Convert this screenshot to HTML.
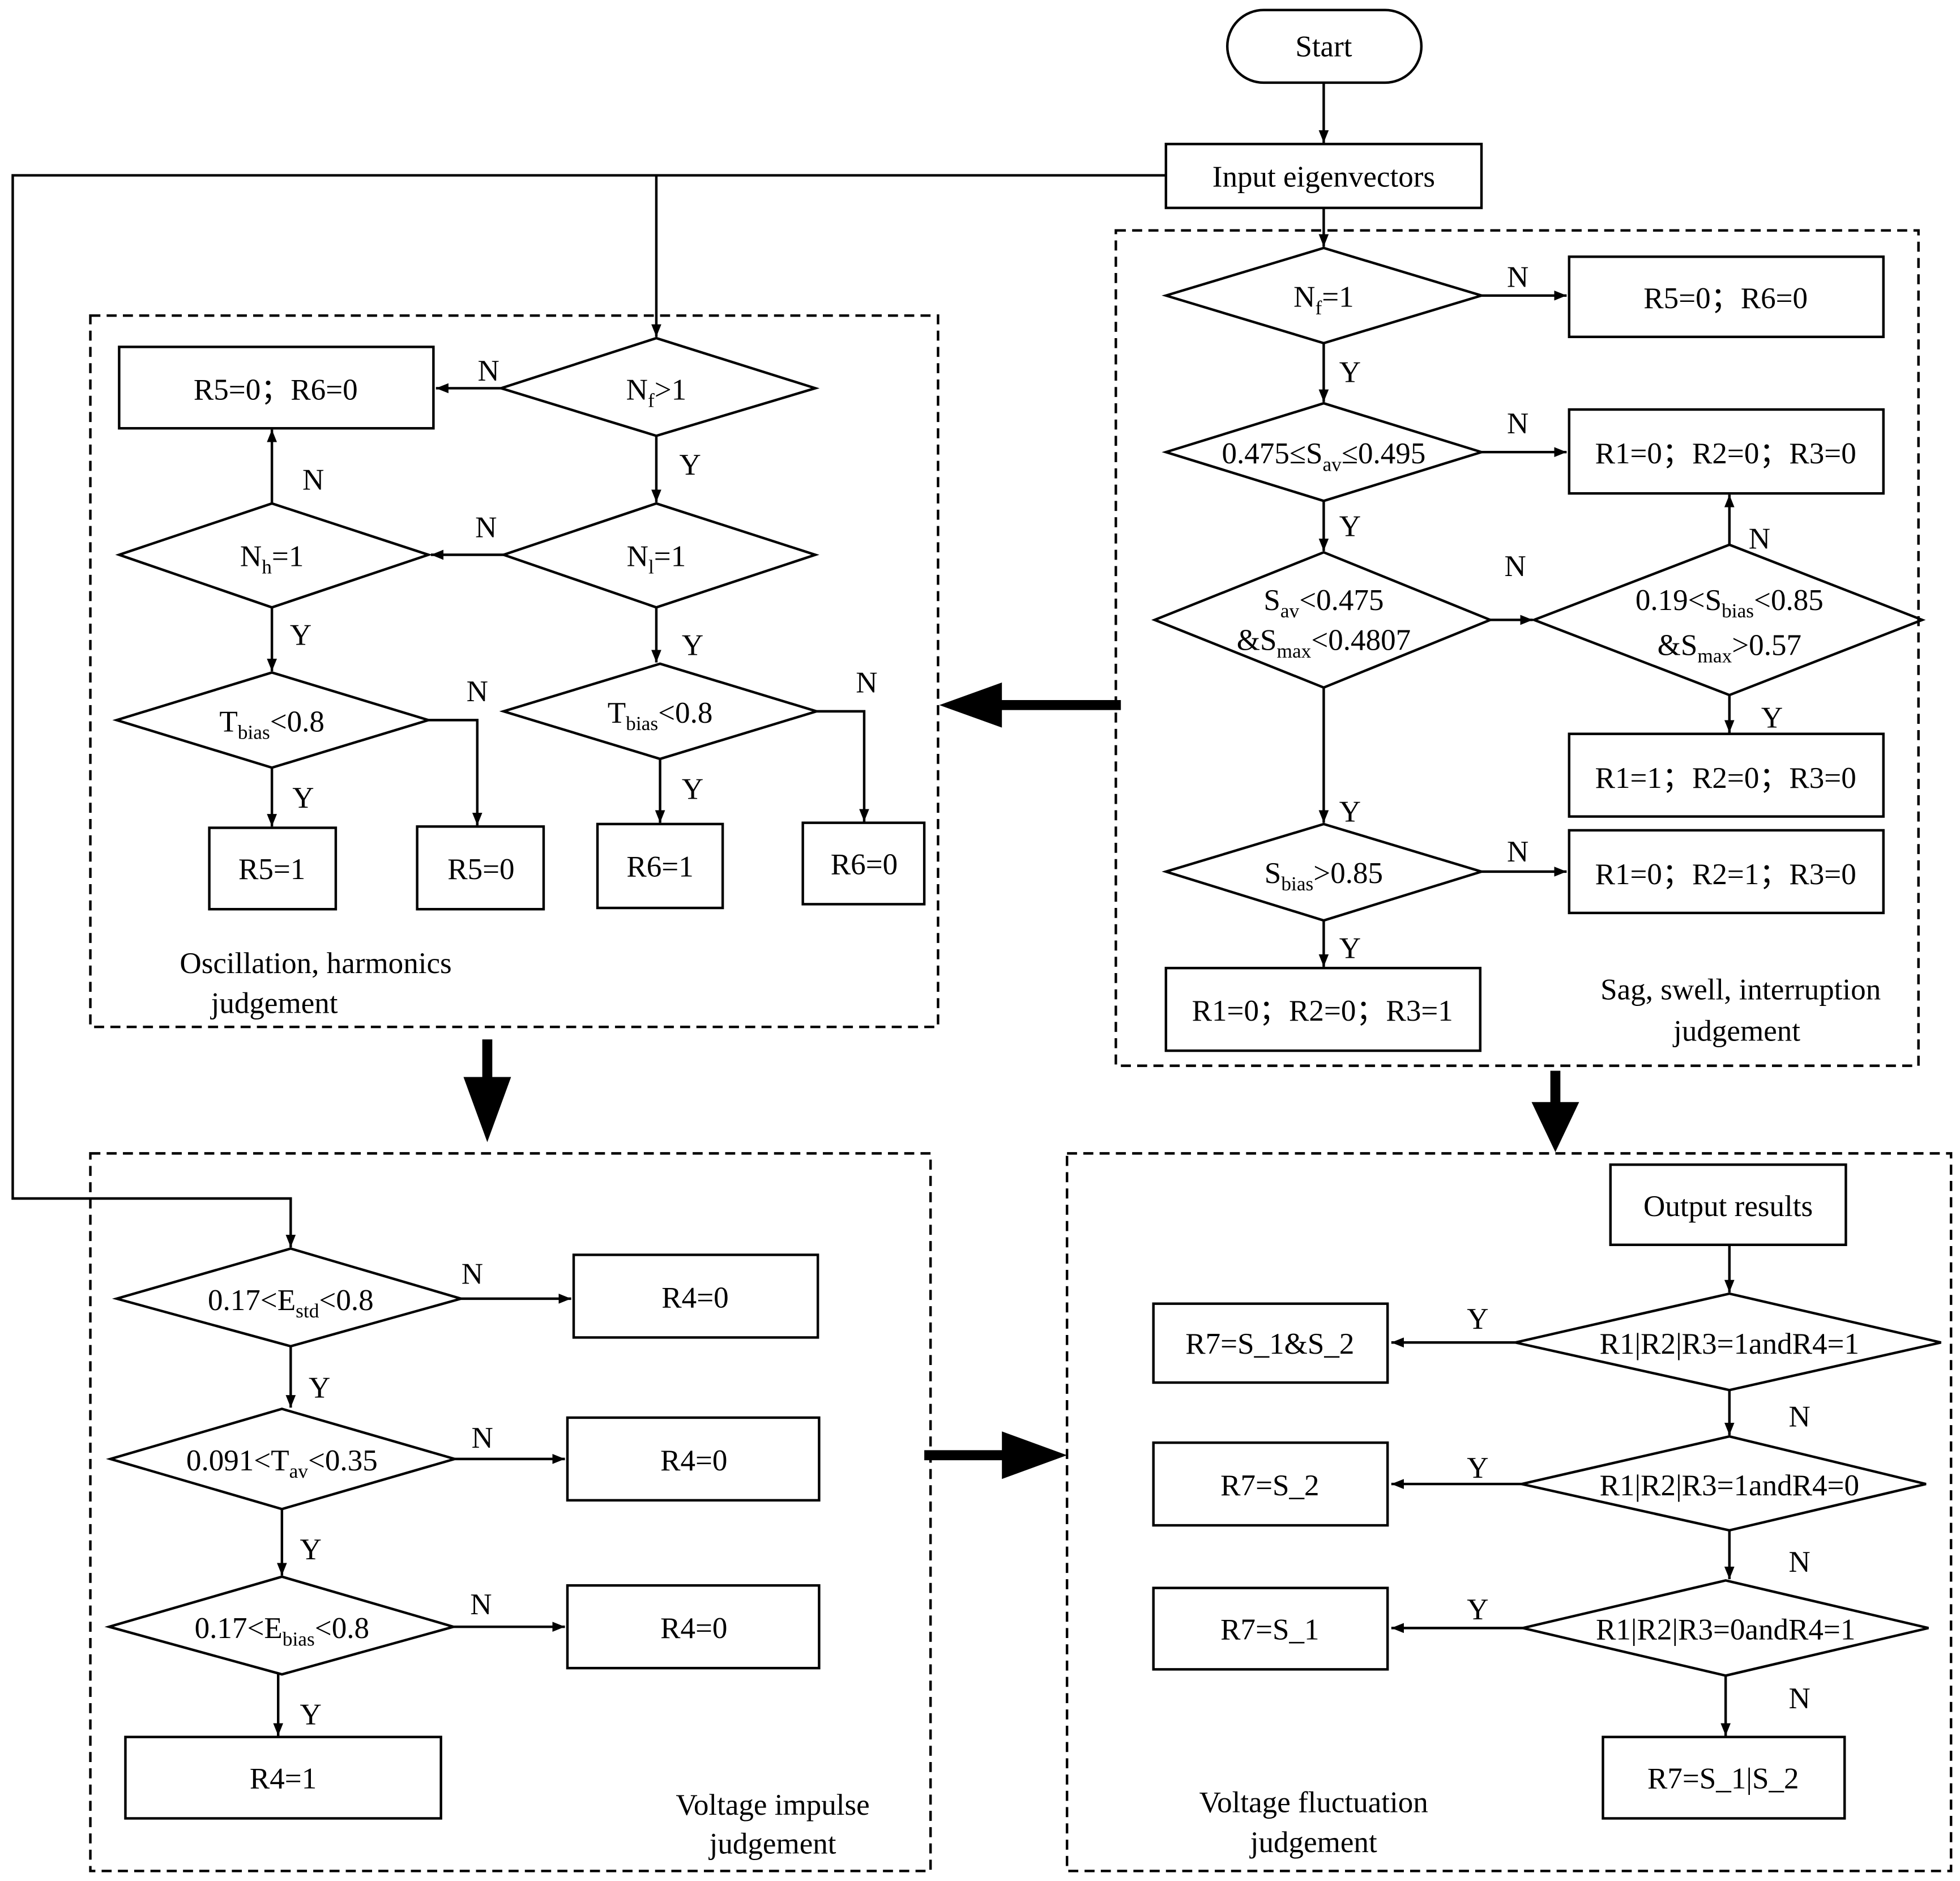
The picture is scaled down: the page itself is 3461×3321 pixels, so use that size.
<!DOCTYPE html>
<html><head><meta charset="utf-8"><style>
html,body{margin:0;padding:0;background:#fff;}
svg{display:block;}
text{font-family:"Liberation Serif",serif;font-size:24px;fill:#000;}
</style></head><body>
<svg width="3461" height="3321" viewBox="0 0 1565 1502" xmlns="http://www.w3.org/2000/svg">
<defs>
<marker id="a" markerWidth="10" markerHeight="8" refX="10" refY="4" orient="auto" markerUnits="userSpaceOnUse">
<path d="M0,0 L10,4 L0,8 z" fill="#000"/>
</marker>
</defs>
<g fill="none" stroke="#000" stroke-width="2">
<rect x="891" y="184" width="641" height="667" stroke-dasharray="8,5"/>
<rect x="72" y="252" width="677" height="568" stroke-dasharray="8,5"/>
<rect x="72" y="921" width="671" height="573" stroke-dasharray="8,5"/>
<rect x="852" y="921" width="706" height="573" stroke-dasharray="8,5"/>
<rect x="980" y="8" width="155" height="58" rx="29"/>
<line x1="1057" y1="66" x2="1057" y2="114" marker-end="url(#a)"/>
<rect x="931" y="115" width="252" height="51"/>
<polyline points="931,140 10,140 10,957 232,957 232,996" marker-end="url(#a)"/>
<line x1="524" y1="140" x2="524" y2="269" marker-end="url(#a)"/>
<line x1="1057" y1="166" x2="1057" y2="197" marker-end="url(#a)"/>
<polygon points="931,236 1057,198 1183,236 1057,274"/>
<line x1="1183" y1="236" x2="1251" y2="236" marker-end="url(#a)"/>
<rect x="1253" y="205" width="251" height="64"/>
<line x1="1057" y1="274" x2="1057" y2="321" marker-end="url(#a)"/>
<polygon points="931,361 1057,322 1183,361 1057,400"/>
<line x1="1183" y1="361" x2="1251" y2="361" marker-end="url(#a)"/>
<rect x="1253" y="327" width="251" height="67"/>
<line x1="1057" y1="400" x2="1057" y2="440" marker-end="url(#a)"/>
<polygon points="922,495 1057,441 1190,495 1057,549"/>
<line x1="1190" y1="495" x2="1224" y2="495" marker-end="url(#a)"/>
<polygon points="1225,495 1381,435 1535,495 1381,555"/>
<line x1="1381" y1="435" x2="1381" y2="395" marker-end="url(#a)"/>
<line x1="1381" y1="555" x2="1381" y2="585" marker-end="url(#a)"/>
<rect x="1253" y="586" width="251" height="66"/>
<line x1="1057" y1="549" x2="1057" y2="657" marker-end="url(#a)"/>
<polygon points="931,696 1057,658 1183,696 1057,735"/>
<line x1="1183" y1="696" x2="1251" y2="696" marker-end="url(#a)"/>
<rect x="1253" y="663" width="251" height="66"/>
<line x1="1057" y1="735" x2="1057" y2="772" marker-end="url(#a)"/>
<rect x="931" y="773" width="251" height="66"/>
<polygon points="400,310 524,270 651,310 524,348"/>
<line x1="400" y1="310" x2="348" y2="310" marker-end="url(#a)"/>
<rect x="95" y="277" width="251" height="65"/>
<line x1="524" y1="348" x2="524" y2="401" marker-end="url(#a)"/>
<polygon points="402,443 524,402 651,443 524,485"/>
<line x1="402" y1="443" x2="344" y2="443" marker-end="url(#a)"/>
<polygon points="95,443 217,402 342,443 217,485"/>
<line x1="217" y1="402" x2="217" y2="343" marker-end="url(#a)"/>
<line x1="217" y1="485" x2="217" y2="536" marker-end="url(#a)"/>
<polygon points="93,575 217,537 342,575 217,613"/>
<polyline points="342,575 381,575 381,659" marker-end="url(#a)"/>
<line x1="217" y1="613" x2="217" y2="660" marker-end="url(#a)"/>
<rect x="167" y="661" width="101" height="65"/>
<rect x="333" y="660" width="101" height="66"/>
<line x1="524" y1="485" x2="524" y2="529" marker-end="url(#a)"/>
<polygon points="402,568 527,530 652,568 527,606"/>
<polyline points="652,568 690,568 690,656" marker-end="url(#a)"/>
<line x1="527" y1="606" x2="527" y2="657" marker-end="url(#a)"/>
<rect x="477" y="658" width="100" height="67"/>
<rect x="641" y="657" width="97" height="65"/>
<polygon points="93,1037 232,997 368,1037 232,1075"/>
<line x1="368" y1="1037" x2="456" y2="1037" marker-end="url(#a)"/>
<rect x="458" y="1002" width="195" height="66"/>
<line x1="232" y1="1075" x2="232" y2="1124" marker-end="url(#a)"/>
<polygon points="88,1165 225,1125 363,1165 225,1205"/>
<line x1="363" y1="1165" x2="451" y2="1165" marker-end="url(#a)"/>
<rect x="453" y="1132" width="201" height="66"/>
<line x1="225" y1="1205" x2="225" y2="1258" marker-end="url(#a)"/>
<polygon points="87,1299 225,1259 362,1299 225,1337"/>
<line x1="362" y1="1299" x2="451" y2="1299" marker-end="url(#a)"/>
<rect x="453" y="1266" width="201" height="66"/>
<line x1="222" y1="1337" x2="222" y2="1386" marker-end="url(#a)"/>
<rect x="100" y="1387" width="252" height="65"/>
<rect x="1286" y="930" width="188" height="64"/>
<line x1="1381" y1="994" x2="1381" y2="1032" marker-end="url(#a)"/>
<polygon points="1210,1072 1381,1033 1550,1072 1381,1110"/>
<line x1="1210" y1="1072" x2="1111" y2="1072" marker-end="url(#a)"/>
<rect x="921" y="1041" width="187" height="63"/>
<line x1="1381" y1="1110" x2="1381" y2="1146" marker-end="url(#a)"/>
<polygon points="1215,1185 1381,1147 1538,1185 1381,1222"/>
<line x1="1215" y1="1185" x2="1111" y2="1185" marker-end="url(#a)"/>
<rect x="921" y="1152" width="187" height="66"/>
<line x1="1381" y1="1222" x2="1381" y2="1261" marker-end="url(#a)"/>
<polygon points="1216,1300 1378,1262 1540,1300 1378,1338"/>
<line x1="1216" y1="1300" x2="1111" y2="1300" marker-end="url(#a)"/>
<rect x="921" y="1268" width="187" height="65"/>
<line x1="1378" y1="1338" x2="1378" y2="1386" marker-end="url(#a)"/>
<rect x="1280" y="1387" width="193" height="65"/>
</g>
<g fill="#000" stroke="#000">
<line x1="895" y1="563" x2="798" y2="563" stroke-width="8"/>
<polygon points="750,563 800,545 800,581" stroke="none"/>
<line x1="389" y1="830" x2="389" y2="862" stroke-width="8"/>
<polygon points="370,860 408,860 389,912" stroke="none"/>
<line x1="1242" y1="855" x2="1242" y2="882" stroke-width="8"/>
<polygon points="1223,880 1261,880 1242,920" stroke="none"/>
<line x1="738" y1="1162" x2="802" y2="1162" stroke-width="8"/>
<polygon points="800,1143 800,1181 852,1162" stroke="none"/>
</g>
<g text-anchor="middle">
<text x="1057" y="45">Start</text>
<text x="1057" y="149">Input eigenvectors</text>
<text x="1057" y="245">N<tspan font-size="16" dy="6">f</tspan><tspan dy="-6">=1</tspan></text>
<text x="1378" y="246">R5=0；R6=0</text>
<text x="1057" y="370">0.475≤S<tspan font-size="16" dy="6">av</tspan><tspan dy="-6">≤0.495</tspan></text>
<text x="1378" y="370">R1=0；R2=0；R3=0</text>
<text x="1057" y="487">S<tspan font-size="16" dy="6">av</tspan><tspan dy="-6">&lt;0.475</tspan></text>
<text x="1057" y="519">&amp;S<tspan font-size="16" dy="6">max</tspan><tspan dy="-6">&lt;0.4807</tspan></text>
<text x="1381" y="487">0.19&lt;S<tspan font-size="16" dy="6">bias</tspan><tspan dy="-6">&lt;0.85</tspan></text>
<text x="1381" y="523">&amp;S<tspan font-size="16" dy="6">max</tspan><tspan dy="-6">&gt;0.57</tspan></text>
<text x="1378" y="629">R1=1；R2=0；R3=0</text>
<text x="1057" y="705">S<tspan font-size="16" dy="6">bias</tspan><tspan dy="-6">&gt;0.85</tspan></text>
<text x="1378" y="706">R1=0；R2=1；R3=0</text>
<text x="1056" y="815">R1=0；R2=0；R3=1</text>
<text x="1390" y="798">Sag,  swell, interruption</text>
<text x="1387" y="831">judgement</text>
<text x="524" y="319">N<tspan font-size="16" dy="6">f</tspan><tspan dy="-6">&gt;1</tspan></text>
<text x="220" y="319">R5=0；R6=0</text>
<text x="524" y="452">N<tspan font-size="16" dy="6">l</tspan><tspan dy="-6">=1</tspan></text>
<text x="217" y="452">N<tspan font-size="16" dy="6">h</tspan><tspan dy="-6">=1</tspan></text>
<text x="217" y="584">T<tspan font-size="16" dy="6">bias</tspan><tspan dy="-6">&lt;0.8</tspan></text>
<text x="527" y="577">T<tspan font-size="16" dy="6">bias</tspan><tspan dy="-6">&lt;0.8</tspan></text>
<text x="217" y="702">R5=1</text>
<text x="384" y="702">R5=0</text>
<text x="527" y="700">R6=1</text>
<text x="690" y="698">R6=0</text>
<text x="252" y="777">Oscillation, harmonics</text>
<text x="219" y="809">judgement</text>
<text x="232" y="1046">0.17&lt;E<tspan font-size="16" dy="6">std</tspan><tspan dy="-6">&lt;0.8</tspan></text>
<text x="555" y="1044">R4=0</text>
<text x="225" y="1174">0.091&lt;T<tspan font-size="16" dy="6">av</tspan><tspan dy="-6">&lt;0.35</tspan></text>
<text x="554" y="1174">R4=0</text>
<text x="225" y="1308">0.17&lt;E<tspan font-size="16" dy="6">bias</tspan><tspan dy="-6">&lt;0.8</tspan></text>
<text x="554" y="1308">R4=0</text>
<text x="226" y="1428">R4=1</text>
<text x="617" y="1449">Voltage  impulse</text>
<text x="617" y="1480">judgement</text>
<text x="1380" y="971">Output results</text>
<text x="1381" y="1081">R1|R2|R3=1andR4=1</text>
<text x="1014" y="1081">R7=S_1&amp;S_2</text>
<text x="1381" y="1194">R1|R2|R3=1andR4=0</text>
<text x="1014" y="1194">R7=S_2</text>
<text x="1378" y="1309">R1|R2|R3=0andR4=1</text>
<text x="1014" y="1309">R7=S_1</text>
<text x="1376" y="1428">R7=S_1|S_2</text>
<text x="1049" y="1447">Voltage fluctuation</text>
<text x="1049" y="1479">judgement</text>
<text x="1212" y="229">N</text><text x="1078" y="305">Y</text>
<text x="1212" y="346">N</text><text x="1078" y="428">Y</text>
<text x="1210" y="460">N</text><text x="1405" y="438">N</text>
<text x="1415" y="581">Y</text><text x="1078" y="656">Y</text>
<text x="1212" y="688">N</text><text x="1078" y="765">Y</text>
<text x="390" y="304">N</text><text x="551" y="379">Y</text>
<text x="388" y="429">N</text><text x="250" y="391">N</text>
<text x="240" y="515">Y</text><text x="381" y="560">N</text>
<text x="242" y="645">Y</text><text x="553" y="523">Y</text>
<text x="692" y="553">N</text><text x="553" y="638">Y</text>
<text x="377" y="1025">N</text><text x="255" y="1116">Y</text>
<text x="385" y="1156">N</text><text x="248" y="1245">Y</text>
<text x="384" y="1289">N</text><text x="248" y="1377">Y</text>
<text x="1180" y="1061">Y</text><text x="1437" y="1139">N</text>
<text x="1180" y="1180">Y</text><text x="1437" y="1255">N</text>
<text x="1180" y="1293">Y</text><text x="1437" y="1364">N</text>
</g>
</svg>
</body></html>
